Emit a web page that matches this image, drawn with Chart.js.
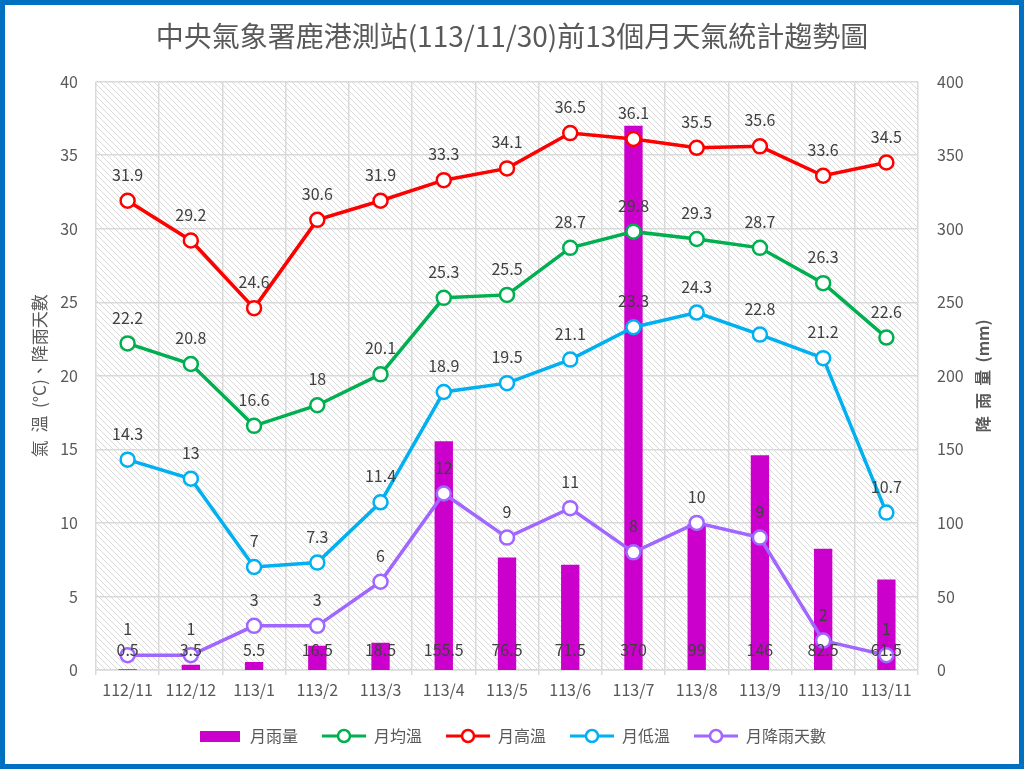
<!DOCTYPE html>
<html>
<head>
<meta charset="utf-8">
<script src="https://cdn.jsdelivr.net/npm/chart.js@4.4.1/dist/chart.umd.min.js"></script>
<style>
  html, body { margin: 0; padding: 0; background: #fff; }
  #wrap {
    width: 1024px; height: 769px; box-sizing: border-box;
    border: 5px solid #0070C0; position: relative; background: #fff;
  }
</style>
</head>
<body>
<div id="wrap"><canvas id="weather"></canvas></div>
<script>
const months = ['112/11', '112/12', '113/1', '113/2', '113/3', '113/4', '113/5', '113/6', '113/7', '113/8', '113/9', '113/10', '113/11'];
const rainfall = [0.5, 3.5, 5.5, 16.5, 18.5, 155.5, 76.5, 71.5, 370, 99, 146, 82.5, 61.5];
const avgTemp = [22.2, 20.8, 16.6, 18, 20.1, 25.3, 25.5, 28.7, 29.8, 29.3, 28.7, 26.3, 22.6];
const highTemp = [31.9, 29.2, 24.6, 30.6, 31.9, 33.3, 34.1, 36.5, 36.1, 35.5, 35.6, 33.6, 34.5];
const lowTemp = [14.3, 13, 7, 7.3, 11.4, 18.9, 19.5, 21.1, 23.3, 24.3, 22.8, 21.2, 10.7];
const rainDays = [1, 1, 3, 3, 6, 12, 9, 11, 8, 10, 9, 2, 1];

const FONT = '"Noto Sans CJK TC", "Noto Sans", sans-serif';
const gray = '#595959';
const labelGray = '#404040';

// little pictures for the legend
function lineSymbol(color) {
  const c = document.createElement('canvas');
  c.width = 46; c.height = 16;
  const g = c.getContext('2d');
  g.strokeStyle = color; g.lineWidth = 3;
  g.beginPath(); g.moveTo(1, 8); g.lineTo(45, 8); g.stroke();
  g.fillStyle = '#fff'; g.lineWidth = 2.5;
  g.beginPath(); g.arc(23, 8, 6, 0, Math.PI * 2); g.fill(); g.stroke();
  return c;
}
function boxSymbol(color) {
  const c = document.createElement('canvas');
  c.width = 40; c.height = 11;
  const g = c.getContext('2d');
  g.fillStyle = color; g.fillRect(0, 0, 40, 11);
  return c;
}

function hatch() {
  const c = document.createElement('canvas');
  c.width = 6; c.height = 6;
  const g = c.getContext('2d');
  g.fillStyle = '#fff'; g.fillRect(0, 0, 6, 6);
  g.strokeStyle = '#dadada'; g.lineWidth = 1;
  g.beginPath();
  g.moveTo(-1, -1); g.lineTo(7, 7);
  g.moveTo(-1, 5); g.lineTo(1, 7);
  g.moveTo(5, -1); g.lineTo(7, 1);
  g.stroke();
  return c;
}

const backgroundPlugin = {
  id: 'hatchBg',
  beforeDraw(chart) {
    const { ctx, chartArea: a } = chart;
    ctx.save();
    ctx.fillStyle = ctx.createPattern(hatch(), 'repeat');
    ctx.fillRect(a.left, a.top, a.right - a.left, a.bottom - a.top);
    ctx.restore();
  }
};

const labelsPlugin = {
  id: 'valueLabels',
  afterDatasetsDraw(chart) {
    const { ctx } = chart;
    ctx.save();
    ctx.font = '16px ' + FONT;
    ctx.fillStyle = labelGray;
    ctx.textAlign = 'center';
    ctx.textBaseline = 'middle';
    chart.data.datasets.forEach((ds, i) => {
      const meta = chart.getDatasetMeta(i);
      meta.data.forEach((el, j) => {
        if (ds.type === 'bar') {
          const base = chart.scales.y1.getPixelForValue(0);
          ctx.fillText(String(ds.data[j]), el.x, base - 20);
        } else {
          ctx.fillText(String(ds.data[j]), el.x, el.y - 26);
        }
      });
    });
    ctx.restore();
  },
  afterDraw(chart) {
    const { ctx, chartArea: a } = chart;
    const midY = (a.top + a.bottom) / 2;
    ctx.save();
    ctx.fillStyle = gray;
    ctx.textAlign = 'center';
    ctx.textBaseline = 'middle';
    ctx.font = '17px ' + FONT;
    ctx.translate(35, midY);
    ctx.rotate(-Math.PI / 2);
    ctx.fillText('氣  溫  (°C)、降雨天數', 0, 0);
    ctx.restore();
    ctx.save();
    ctx.fillStyle = gray;
    ctx.textAlign = 'center';
    ctx.textBaseline = 'middle';
    ctx.font = 'bold 16px ' + FONT;
    ctx.translate(978, midY);
    ctx.rotate(-Math.PI / 2);
    ctx.fillText('降  雨  量  (mm)', 0, 0);
    ctx.restore();
  }
};

function lineSet(label, data, color) {
  return {
    type: 'line', label, data, yAxisID: 'y', order: 0,
    borderColor: color, borderWidth: 3.5, tension: 0,
    pointRadius: 7, pointHoverRadius: 7, pointBorderWidth: 2.5,
    pointBackgroundColor: '#fff', pointBorderColor: color,
    pointStyle: 'circle'
  };
}

const legendIcons = [boxSymbol('#CC00CC'), lineSymbol('#00B050'), lineSymbol('#FF0000'), lineSymbol('#00B0F0'), lineSymbol('#A066FF')];

new Chart(document.getElementById('weather'), {
  data: {
    labels: months,
    datasets: [
      {
        type: 'bar', label: '月雨量', data: rainfall, yAxisID: 'y1', order: 1,
        backgroundColor: '#CC00CC', barPercentage: 0.29, categoryPercentage: 1
      },
      lineSet('月均溫', avgTemp, '#00B050'),
      lineSet('月高溫', highTemp, '#FF0000'),
      lineSet('月低溫', lowTemp, '#00B0F0'),
      lineSet('月降雨天數', rainDays, '#A066FF')
    ]
  },
  options: {
    responsive: true,
    maintainAspectRatio: false,
    animation: false,
    layout: { padding: { left: 0, right: 0, top: 0, bottom: 10 } },
    plugins: {
      title: {
        display: true,
        text: '中央氣象署鹿港測站(113/11/30)前13個月天氣統計趨勢圖',
        color: gray,
        font: { family: FONT, size: 28, weight: 'normal' },
        padding: { top: 15, bottom: 28 }
      },
      legend: {
        position: 'bottom',
        labels: {
          color: gray,
          font: { family: FONT, size: 16 },
          usePointStyle: true,
          pointStyleWidth: 44,
          padding: 24,
          sort: (a, b) => a.datasetIndex - b.datasetIndex,
          generateLabels(chart) {
            return chart.data.datasets.map((ds, i) => ({
              text: ds.label,
              datasetIndex: i,
              pointStyle: legendIcons[i],
              fontColor: gray,
              fillStyle: 'transparent',
              strokeStyle: 'transparent',
              lineWidth: 0,
              hidden: false
            }));
          }
        }
      },
      tooltip: { enabled: false }
    },
    scales: {
      x: {
        offset: true,
        grid: { color: '#d9d9d9', lineWidth: 1.5, offset: true, tickLength: 5, drawTicks: true },
        border: { color: '#d9d9d9', width: 1.5 },
        ticks: { color: gray, font: { family: FONT, size: 16 }, padding: 5, maxRotation: 0 },
        afterFit(scale) { scale.height = 34; }
      },
      y: {
        position: 'left', min: 0, max: 40,
        ticks: { stepSize: 5, color: gray, font: { family: FONT, size: 16 }, padding: 18 },
        grid: { color: '#d9d9d9', lineWidth: 1.5, drawTicks: false },
        border: { display: false },
        afterFit(scale) { scale.width = 91; }
      },
      y1: {
        position: 'right', min: 0, max: 400,
        ticks: { stepSize: 50, color: gray, font: { family: FONT, size: 16 }, padding: 19 },
        grid: { display: false, drawTicks: false },
        border: { display: false },
        afterFit(scale) { scale.width = 101; }
      }
    }
  },
  plugins: [backgroundPlugin, labelsPlugin]
});
</script>
</body>
</html>
